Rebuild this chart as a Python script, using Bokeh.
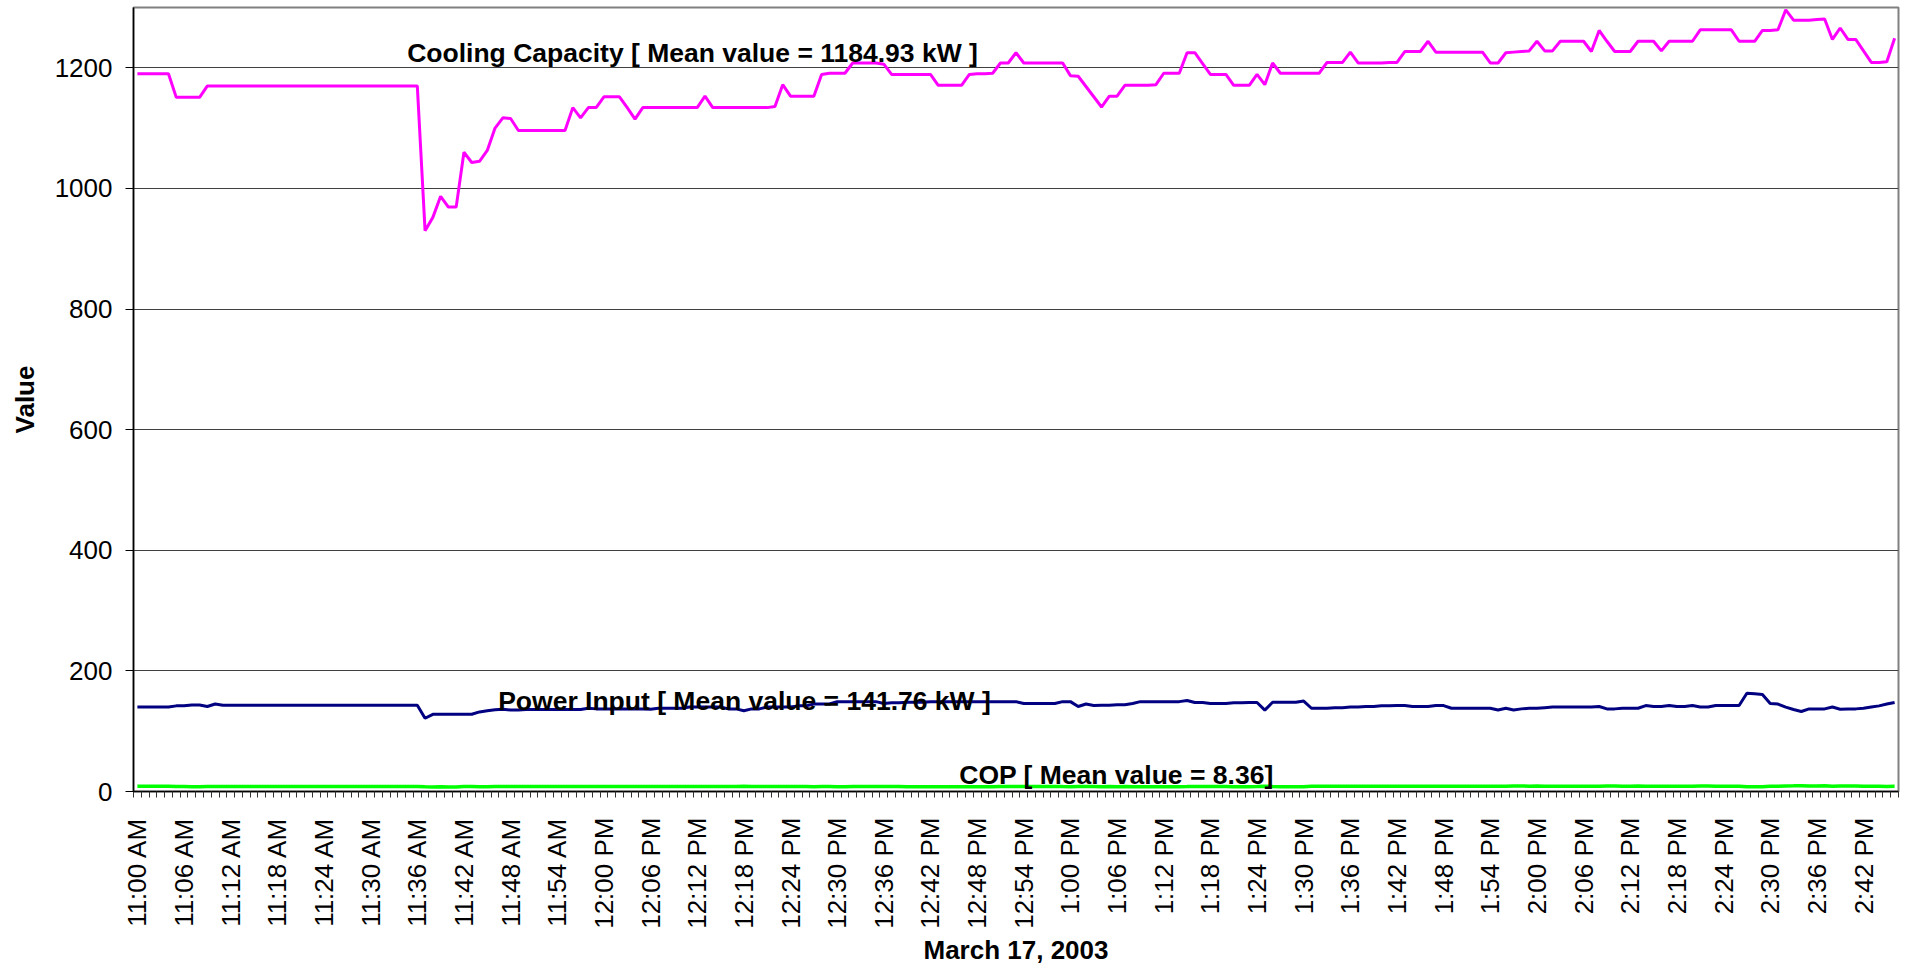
import math
from bokeh.plotting import figure
from bokeh.models import FixedTicker, Range1d, Label
from bokeh.embed import file_html
from bokeh.resources import INLINE

# ---------------- data (one value per minute, 11:00 AM .. 2:46 PM) ----------------
cooling = [
    1190, 1190, 1190, 1190, 1190, 1151, 1151, 1151, 1151, 1170,
    1170, 1170, 1170, 1170, 1170, 1170, 1170, 1170, 1170, 1170,
    1170, 1170, 1170, 1170, 1170, 1170, 1170, 1170, 1170, 1170,
    1170, 1170, 1170, 1170, 1170, 1170, 1170, 930, 952, 987,
    969, 969, 1060, 1043, 1045, 1063, 1100, 1117, 1116, 1096,
    1096, 1096, 1096, 1096, 1096, 1096, 1134, 1117, 1134, 1134,
    1152, 1152, 1152, 1134, 1115, 1134, 1134, 1134, 1134, 1134,
    1134, 1134, 1134, 1153, 1134, 1134, 1134, 1134, 1134, 1134,
    1134, 1134, 1136, 1172, 1153, 1153, 1153, 1153, 1189, 1191,
    1191, 1191, 1208, 1208, 1208, 1208, 1206, 1189, 1189, 1189,
    1189, 1189, 1189, 1171, 1171, 1171, 1171, 1189, 1190, 1190,
    1191, 1208, 1208, 1225, 1208, 1208, 1208, 1208, 1208, 1208,
    1187, 1186, 1169, 1152, 1135, 1153, 1153, 1171, 1171, 1171,
    1171, 1172, 1191, 1191, 1191, 1225, 1225, 1207, 1189, 1189,
    1189, 1171, 1171, 1171, 1189, 1172, 1208, 1191, 1191, 1191,
    1191, 1191, 1191, 1209, 1209, 1209, 1226, 1208, 1208, 1208,
    1208, 1209, 1209, 1227, 1227, 1227, 1244, 1226, 1226, 1226,
    1226, 1226, 1226, 1226, 1208, 1208, 1225, 1226, 1227, 1228,
    1244, 1228, 1228, 1244, 1244, 1244, 1244, 1227, 1262, 1244,
    1227, 1227, 1227, 1244, 1244, 1244, 1228, 1244, 1244, 1244,
    1244, 1263, 1263, 1263, 1263, 1263, 1244, 1244, 1244, 1262,
    1262, 1263, 1296, 1279, 1279, 1279, 1280, 1281, 1247, 1266,
    1247, 1247, 1228, 1209, 1209, 1210, 1249,
]

power = [
    140, 140, 140, 140, 140, 142, 142, 143.5, 143.5, 141,
    145, 143, 143, 143, 143, 143, 143, 143, 143, 143,
    143, 143, 143, 143, 143, 143, 143, 143, 143, 143,
    143, 143, 143, 143, 143, 143, 143, 121.5, 128, 128,
    128, 128, 128, 128, 132, 134, 135.5, 136.5, 135, 135,
    136, 136, 136, 136, 136, 136, 136, 136, 138, 137,
    137, 137, 137, 137, 137, 137, 136.5, 138, 138, 138,
    138, 140, 140, 140, 140, 140, 137, 137, 134, 137,
    137, 140, 140, 140, 140, 142, 142, 145, 145, 145,
    149, 149, 149, 149, 149, 149, 146, 147, 147, 148,
    148, 148, 149, 149, 149, 149, 149, 149, 149, 149,
    149, 149, 149, 149, 146, 146, 146, 146, 146, 149,
    149, 141, 145, 142.5, 143, 143, 144, 144, 146, 149,
    149, 149, 149, 149, 149, 151, 147.5, 147.5, 146, 146,
    146, 147, 147, 147.5, 147.5, 135, 148, 148, 148, 148,
    150, 138, 138, 138, 139, 139, 140, 140, 141, 141,
    142, 142, 142.5, 142.5, 141, 141, 141, 142.5, 142.5, 138,
    138, 138, 138, 138, 138, 135, 138, 135, 137, 138,
    138, 139, 140, 140, 140, 140, 140, 140, 141, 137,
    137, 138, 138, 138, 142.5, 141, 141, 142.5, 141, 141,
    142.5, 140, 140, 142.5, 142.5, 142.5, 142.5, 163, 162, 161,
    146, 145, 140, 136, 132.6, 137, 137, 137, 140, 136.5,
    137, 137, 138, 140, 142, 145, 147.5,
]

cop = [
    8.5, 8.5, 8.5, 8.5, 8.5, 8.1, 8.1, 8.0, 8.0, 8.3,
    8.1, 8.2, 8.2, 8.2, 8.2, 8.2, 8.2, 8.2, 8.2, 8.2,
    8.2, 8.2, 8.2, 8.2, 8.2, 8.2, 8.2, 8.2, 8.2, 8.2,
    8.2, 8.2, 8.2, 8.2, 8.2, 8.2, 8.2, 7.7, 7.4, 7.7,
    7.6, 7.6, 8.3, 8.1, 7.9, 7.9, 8.1, 8.2, 8.3, 8.1,
    8.1, 8.1, 8.1, 8.1, 8.1, 8.1, 8.3, 8.2, 8.2, 8.3,
    8.4, 8.4, 8.4, 8.3, 8.1, 8.3, 8.3, 8.2, 8.2, 8.2,
    8.2, 8.1, 8.1, 8.2, 8.1, 8.1, 8.3, 8.3, 8.5, 8.3,
    8.3, 8.1, 8.1, 8.4, 8.2, 8.1, 8.1, 8.0, 8.2, 8.2,
    8.0, 8.0, 8.1, 8.1, 8.1, 8.1, 8.3, 8.1, 8.1, 8.0,
    8.0, 8.0, 8.0, 7.9, 7.9, 7.9, 7.9, 8.0, 8.0, 8.0,
    8.0, 8.1, 8.1, 8.2, 8.3, 8.3, 8.3, 8.3, 8.3, 8.1,
    8.0, 8.4, 8.1, 8.1, 7.9, 8.1, 8.0, 8.1, 8.0, 7.9,
    7.9, 7.9, 8.0, 8.0, 8.0, 8.1, 8.3, 8.2, 8.1, 8.1,
    8.1, 8.0, 8.0, 8.0, 8.1, 8.7, 8.2, 8.0, 8.0, 8.0,
    7.9, 8.6, 8.6, 8.8, 8.7, 8.7, 8.8, 8.6, 8.6, 8.6,
    8.5, 8.5, 8.5, 8.6, 8.7, 8.7, 8.8, 8.6, 8.6, 8.9,
    8.9, 8.9, 8.9, 8.9, 8.8, 8.9, 8.9, 9.1, 9.0, 8.9,
    9.0, 8.8, 8.8, 8.9, 8.9, 8.9, 8.9, 8.8, 8.9, 9.1,
    9.0, 8.9, 8.9, 9.0, 8.7, 8.8, 8.7, 8.7, 8.8, 8.8,
    8.7, 9.0, 9.0, 8.9, 8.9, 8.9, 8.7, 7.7, 7.8, 7.8,
    8.6, 8.7, 9.3, 9.4, 9.6, 9.3, 9.3, 9.4, 8.9, 9.3,
    9.1, 9.1, 8.9, 8.6, 8.5, 8.3, 8.5,
]

tick_labels = [
    "11:00 AM", "11:06 AM", "11:12 AM", "11:18 AM", "11:24 AM", "11:30 AM",
    "11:36 AM", "11:42 AM", "11:48 AM", "11:54 AM", "12:00 PM", "12:06 PM",
    "12:12 PM", "12:18 PM", "12:24 PM", "12:30 PM", "12:36 PM", "12:42 PM",
    "12:48 PM", "12:54 PM", "1:00 PM", "1:06 PM", "1:12 PM", "1:18 PM",
    "1:24 PM", "1:30 PM", "1:36 PM", "1:42 PM", "1:48 PM", "1:54 PM",
    "2:00 PM", "2:06 PM", "2:12 PM", "2:18 PM", "2:24 PM", "2:30 PM",
    "2:36 PM", "2:42 PM",
]
label_step = 6
y_ticks = [0, 200, 400, 600, 800, 1000, 1200]

cooling_note = "Cooling Capacity [ Mean value = 1184.93 kW ]"
power_note = "Power Input [ Mean value = 141.76 kW ]"
cop_note = "COP [ Mean value = 8.36]"
x_title = "March 17, 2003"
y_title = "Value"

# ---------------- figure ----------------
n = len(cooling)
x = list(range(n))
FONT = "Liberation Sans"

p = figure(
    width=1908, height=969,
    x_range=Range1d(-0.5, n - 0.5), y_range=Range1d(0, 1300),
    output_backend="svg", toolbar_location=None,
    min_border_left=133, min_border_right=10, min_border_top=7, min_border_bottom=178,
    background_fill_color="white", border_fill_color="white",
)
p.outline_line_color = "#808080"
p.outline_line_width = 2

p.line(x, cop, line_color="#00FF00", line_width=3.5)
p.line(x, power, line_color="#000080", line_width=3)
p.line(x, cooling, line_color="#FF00FF", line_width=3)

# grid
p.xgrid.visible = False
p.ygrid.ticker = FixedTicker(ticks=y_ticks)
p.ygrid.grid_line_color = "#404040"
p.ygrid.grid_line_width = 1

# y axis
p.yaxis.ticker = FixedTicker(ticks=y_ticks)
p.yaxis.axis_line_color = "black"
p.yaxis.axis_line_width = 1.5
p.yaxis.major_tick_out = 8
p.yaxis.major_tick_in = 0
p.yaxis.minor_tick_line_color = None
p.yaxis.major_label_standoff = 13
p.yaxis.major_label_text_font = FONT
p.yaxis.major_label_text_font_size = "26px"
p.yaxis.major_label_text_color = "black"
p.yaxis.axis_label = y_title
p.yaxis.axis_label_text_font = FONT
p.yaxis.axis_label_text_font_style = "bold"
p.yaxis.axis_label_text_font_size = "26px"
p.yaxis.axis_label_text_color = "black"
p.yaxis.axis_label_standoff = 12

# x axis
positions = [k * label_step for k in range(len(tick_labels))]
boundaries = [k - 0.5 for k in range(n + 1)]
p.xaxis.ticker = FixedTicker(ticks=positions, minor_ticks=boundaries)
p.xaxis.major_label_overrides = {pos: lab for pos, lab in zip(positions, tick_labels)}
p.xaxis.axis_line_color = "black"
p.xaxis.axis_line_width = 1.5
p.xaxis.major_tick_out = 0
p.xaxis.major_tick_in = 0
p.xaxis.minor_tick_out = 6
p.xaxis.minor_tick_in = 0
p.xaxis.minor_tick_line_color = "#333333"
p.xaxis.major_label_orientation = math.pi / 2
p.xaxis.major_label_standoff = 20
p.xaxis.major_label_text_font = FONT
p.xaxis.major_label_text_font_size = "26px"
p.xaxis.major_label_text_color = "black"
p.xaxis.axis_label = x_title
p.xaxis.axis_label_text_font = FONT
p.xaxis.axis_label_text_font_style = "bold"
p.xaxis.axis_label_text_font_size = "26px"
p.xaxis.axis_label_text_color = "black"
p.xaxis.axis_label_standoff = 3

# annotations
for txt, lx, ly in [(cooling_note, 34.7, 1225), (power_note, 46.4, 150), (cop_note, 105.7, 28)]:
    p.add_layout(Label(
        x=lx, y=ly, text=txt, text_font=FONT, text_font_style="bold",
        text_font_size="26.5px", text_color="black",
        text_align="left", text_baseline="alphabetic",
    ))

open("out.html", "w").write(file_html(p, INLINE))
